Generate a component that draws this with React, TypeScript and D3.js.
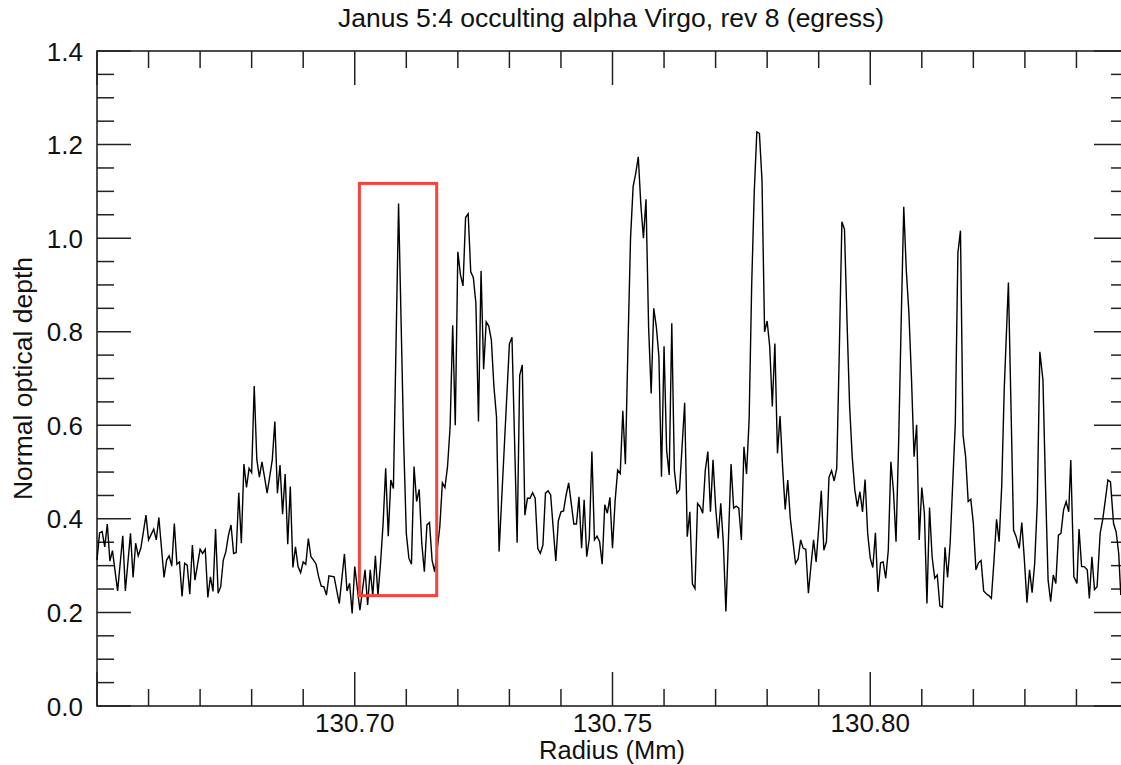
import React from "react";
import * as d3 from "d3";

// Radius (Mm) and normal optical depth
const RADIUS = [
  130.6500, 130.6505, 130.6510, 130.6515, 130.6520, 130.6525, 130.6530, 130.6540, 130.6550, 130.6555,
  130.6565, 130.6570, 130.6575, 130.6580, 130.6585, 130.6595, 130.6600, 130.6610, 130.6615, 130.6620,
  130.6630, 130.6635, 130.6640, 130.6645, 130.6650, 130.6655, 130.6660, 130.6665, 130.6670, 130.6675,
  130.6680, 130.6685, 130.6690, 130.6700, 130.6705, 130.6710, 130.6715, 130.6720, 130.6725, 130.6730,
  130.6735, 130.6740, 130.6745, 130.6750, 130.6755, 130.6760, 130.6765, 130.6770, 130.6775, 130.6780,
  130.6785, 130.6790, 130.6795, 130.6800, 130.6805, 130.6810, 130.6815, 130.6820, 130.6825, 130.6830,
  130.6835, 130.6840, 130.6845, 130.6850, 130.6855, 130.6860, 130.6865, 130.6870, 130.6875, 130.6880,
  130.6885, 130.6890, 130.6895, 130.6900, 130.6905, 130.6910, 130.6915, 130.6920, 130.6925, 130.6930,
  130.6935, 130.6940, 130.6945, 130.6950, 130.6960, 130.6970, 130.6980, 130.6985, 130.6990, 130.6995,
  130.7000, 130.7010, 130.7020, 130.7025, 130.7030, 130.7035, 130.7040, 130.7045, 130.7050, 130.7055,
  130.7060, 130.7065, 130.7070, 130.7075, 130.7085, 130.7095, 130.7100, 130.7105, 130.7110, 130.7115,
  130.7120, 130.7125, 130.7130, 130.7135, 130.7140, 130.7145, 130.7150, 130.7155, 130.7165, 130.7170,
  130.7175, 130.7180, 130.7185, 130.7190, 130.7195, 130.7200, 130.7205, 130.7210, 130.7215, 130.7220,
  130.7225, 130.7230, 130.7235, 130.7240, 130.7245, 130.7250, 130.7255, 130.7260, 130.7265, 130.7270,
  130.7275, 130.7280, 130.7300, 130.7305, 130.7315, 130.7320, 130.7325, 130.7330, 130.7335, 130.7340,
  130.7345, 130.7350, 130.7355, 130.7360, 130.7365, 130.7370, 130.7375, 130.7380, 130.7385, 130.7390,
  130.7395, 130.7400, 130.7405, 130.7410, 130.7415, 130.7420, 130.7425, 130.7430, 130.7435, 130.7440,
  130.7445, 130.7450, 130.7455, 130.7460, 130.7465, 130.7470, 130.7475, 130.7480, 130.7485, 130.7490,
  130.7495, 130.7500, 130.7505, 130.7510, 130.7515, 130.7520, 130.7525, 130.7530, 130.7535, 130.7540,
  130.7545, 130.7550, 130.7555, 130.7560, 130.7565, 130.7570, 130.7575, 130.7580, 130.7585, 130.7590,
  130.7595, 130.7600, 130.7605, 130.7610, 130.7615, 130.7620, 130.7625, 130.7630, 130.7640, 130.7645,
  130.7650, 130.7655, 130.7660, 130.7665, 130.7670, 130.7675, 130.7680, 130.7685, 130.7690, 130.7695,
  130.7700, 130.7705, 130.7710, 130.7715, 130.7720, 130.7730, 130.7735, 130.7740, 130.7745, 130.7750,
  130.7755, 130.7760, 130.7765, 130.7770, 130.7775, 130.7780, 130.7785, 130.7790, 130.7795, 130.7800,
  130.7805, 130.7810, 130.7815, 130.7820, 130.7825, 130.7830, 130.7835, 130.7840, 130.7845, 130.7855,
  130.7860, 130.7865, 130.7870, 130.7875, 130.7880, 130.7885, 130.7890, 130.7895, 130.7900, 130.7905,
  130.7910, 130.7915, 130.7920, 130.7925, 130.7930, 130.7935, 130.7940, 130.7945, 130.7950, 130.7955,
  130.7960, 130.7965, 130.7970, 130.7975, 130.7980, 130.7985, 130.7990, 130.7995, 130.8000, 130.8005,
  130.8010, 130.8015, 130.8020, 130.8025, 130.8030, 130.8035, 130.8040, 130.8045, 130.8050, 130.8055,
  130.8060, 130.8065, 130.8070, 130.8075, 130.8080, 130.8085, 130.8090, 130.8095, 130.8100, 130.8105,
  130.8110, 130.8115, 130.8120, 130.8125, 130.8130, 130.8135, 130.8140, 130.8145, 130.8150, 130.8155,
  130.8160, 130.8165, 130.8170, 130.8175, 130.8180, 130.8185, 130.8190, 130.8195, 130.8200, 130.8205,
  130.8210, 130.8215, 130.8220, 130.8225, 130.8230, 130.8235, 130.8240, 130.8245, 130.8250, 130.8255,
  130.8260, 130.8268, 130.8278, 130.8283, 130.8289, 130.8294, 130.8299, 130.8304, 130.8309, 130.8314,
  130.8319, 130.8324, 130.8329, 130.8335, 130.8340, 130.8345, 130.8350, 130.8355, 130.8360, 130.8365,
  130.8370, 130.8375, 130.8380, 130.8385, 130.8389, 130.8395, 130.8401, 130.8405, 130.8410, 130.8415,
  130.8421, 130.8425, 130.8430, 130.8435, 130.8440, 130.8446, 130.8451, 130.8456, 130.8461, 130.8466,
  130.8472, 130.8477, 130.8482, 130.8486,
];

const DEPTH = [
  0.312, 0.370, 0.373, 0.340, 0.389, 0.310, 0.332, 0.246, 0.364, 0.246,
  0.369, 0.275, 0.348, 0.321, 0.337, 0.408, 0.355, 0.378, 0.355, 0.403,
  0.275, 0.312, 0.321, 0.299, 0.390, 0.303, 0.308, 0.234, 0.305, 0.301,
  0.239, 0.344, 0.269, 0.335, 0.326, 0.335, 0.232, 0.276, 0.245, 0.378,
  0.241, 0.255, 0.312, 0.330, 0.365, 0.387, 0.326, 0.328, 0.456, 0.348,
  0.517, 0.467, 0.508, 0.499, 0.684, 0.527, 0.489, 0.522, 0.489, 0.455,
  0.490, 0.526, 0.608, 0.455, 0.515, 0.410, 0.496, 0.346, 0.469, 0.296,
  0.340, 0.298, 0.285, 0.308, 0.303, 0.358, 0.319, 0.312, 0.303, 0.276,
  0.256, 0.255, 0.237, 0.278, 0.276, 0.219, 0.325, 0.246, 0.262, 0.198,
  0.298, 0.205, 0.291, 0.216, 0.291, 0.235, 0.321, 0.237, 0.305, 0.390,
  0.508, 0.363, 0.483, 0.465, 1.074, 0.561, 0.369, 0.316, 0.303, 0.512,
  0.437, 0.463, 0.348, 0.287, 0.387, 0.392, 0.312, 0.287, 0.383, 0.477,
  0.467, 0.512, 0.597, 0.814, 0.600, 0.971, 0.922, 0.898, 1.044, 1.052,
  0.928, 0.916, 0.861, 0.608, 0.930, 0.720, 0.821, 0.812, 0.782, 0.682,
  0.618, 0.330, 0.774, 0.788, 0.349, 0.707, 0.729, 0.408, 0.444, 0.444,
  0.456, 0.444, 0.337, 0.326, 0.344, 0.455, 0.460, 0.451, 0.380, 0.310,
  0.396, 0.415, 0.417, 0.451, 0.477, 0.433, 0.389, 0.389, 0.447, 0.337,
  0.441, 0.319, 0.358, 0.544, 0.355, 0.363, 0.351, 0.303, 0.430, 0.412,
  0.446, 0.337, 0.437, 0.504, 0.497, 0.631, 0.517, 0.770, 1.000, 1.110,
  1.138, 1.174, 1.071, 1.000, 1.083, 0.811, 0.668, 0.850, 0.811, 0.747,
  0.490, 0.769, 0.547, 0.494, 0.818, 0.504, 0.455, 0.462, 0.648, 0.362,
  0.415, 0.261, 0.251, 0.433, 0.426, 0.412, 0.504, 0.544, 0.415, 0.526,
  0.426, 0.358, 0.433, 0.348, 0.202, 0.517, 0.423, 0.427, 0.423, 0.355,
  0.554, 0.496, 0.611, 0.900, 1.100, 1.227, 1.224, 1.124, 0.800, 0.823,
  0.768, 0.640, 0.775, 0.540, 0.620, 0.510, 0.420, 0.483, 0.400, 0.305,
  0.314, 0.355, 0.337, 0.335, 0.241, 0.300, 0.355, 0.308, 0.380, 0.460,
  0.333, 0.351, 0.489, 0.503, 0.481, 0.508, 0.760, 1.035, 1.019, 0.820,
  0.640, 0.533, 0.462, 0.426, 0.458, 0.415, 0.484, 0.369, 0.316, 0.296,
  0.370, 0.244, 0.306, 0.308, 0.273, 0.333, 0.522, 0.460, 0.351, 0.560,
  0.820, 1.067, 0.930, 0.840, 0.700, 0.533, 0.601, 0.355, 0.467, 0.412,
  0.219, 0.424, 0.319, 0.273, 0.280, 0.214, 0.211, 0.339, 0.275, 0.348,
  0.476, 0.604, 0.968, 1.016, 0.579, 0.533, 0.437, 0.442, 0.390, 0.291,
  0.306, 0.311, 0.246, 0.240, 0.236, 0.230, 0.310, 0.399, 0.351, 0.470,
  0.680, 0.905, 0.376, 0.362, 0.337, 0.392, 0.312, 0.221, 0.291, 0.242,
  0.305, 0.433, 0.757, 0.697, 0.469, 0.269, 0.223, 0.280, 0.262, 0.365,
  0.369, 0.419, 0.437, 0.415, 0.526, 0.276, 0.262, 0.378, 0.298, 0.298,
  0.291, 0.230, 0.319, 0.249, 0.255, 0.369, 0.399, 0.440, 0.483, 0.479,
  0.390, 0.372, 0.326, 0.237,
];

const X_DOMAIN = [130.65, 130.85];
const Y_DOMAIN = [0, 1.4];
const X_LABEL_TICKS = [130.7, 130.75, 130.8];
const X_LABELS = ["130.70", "130.75", "130.80"];
const Y_LABEL_TICKS = [0, 0.2, 0.4, 0.6, 0.8, 1.0, 1.2, 1.4];
const Y_LABELS = ["0.0", "0.2", "0.4", "0.6", "0.8", "1.0", "1.2", "1.4"];
const BOX_RADIUS = [130.7009, 130.7159];
const BOX_DEPTH = [0.236, 1.117];

const TITLE = "Janus 5:4 occulting alpha Virgo, rev 8 (egress)";
const X_TITLE = "Radius (Mm)";
const Y_TITLE = "Normal optical depth";

const W = 1121;
const H = 765;
const L = 97;
const R = 1128;
const T = 51;
const B = 706;
const FONT = "'Liberation Sans', Arial, Helvetica, sans-serif";
const AX = "#222";

export default function App() {
  const x = d3.scaleLinear().domain(X_DOMAIN).range([L, R]);
  const y = d3.scaleLinear().domain(Y_DOMAIN).range([B, T]);
  const pts: [number, number][] = RADIUS.map((r, i) => [r, DEPTH[i]]);
  const line = d3
    .line<[number, number]>()
    .x((d) => x(d[0]))
    .y((d) => y(d[1]));

  const xMinor = x.ticks(20);
  const yMinor = y.ticks(28);
  const isMajorX = (v: number) => Math.abs(Math.round(v / 0.05) * 0.05 - v) < 1e-6;
  const isMajorY = (v: number) => Math.abs(Math.round(v / 0.2) * 0.2 - v) < 1e-6;
  const MAJ = 34;
  const MIN = 17;

  return (
    <svg
      width={W}
      height={H}
      style={{ position: "absolute", left: 0, top: 0, background: "#fff" }}
      fontFamily={FONT}
    >
      <rect x={0} y={0} width={W} height={H} fill="#fff" />
      {/* frame */}
      <rect x={L} y={T} width={R - L} height={B - T} fill="none" stroke={AX} strokeWidth={1.6} />
      {/* x ticks */}
      {xMinor.map((v, i) => {
        const len = isMajorX(v) ? MAJ : MIN;
        const px = x(v);
        return (
          <g key={"xt" + i}>
            <line x1={px} x2={px} y1={B} y2={B - len} stroke={AX} strokeWidth={1.5} />
            <line x1={px} x2={px} y1={T} y2={T + len} stroke={AX} strokeWidth={1.5} />
          </g>
        );
      })}
      {/* y ticks */}
      {yMinor.map((v, i) => {
        const len = isMajorY(v) ? MAJ : MIN;
        const py = y(v);
        return (
          <g key={"yt" + i}>
            <line x1={L} x2={L + len} y1={py} y2={py} stroke={AX} strokeWidth={1.5} />
            <line x1={R} x2={R - len} y1={py} y2={py} stroke={AX} strokeWidth={1.5} />
          </g>
        );
      })}
      {/* tick labels */}
      {X_LABEL_TICKS.map((v, i) => (
        <text key={"xl" + i} x={x(v)} y={732} textAnchor="middle" fontSize={26} fill="#111">
          {X_LABELS[i]}
        </text>
      ))}
      {Y_LABEL_TICKS.map((v, i) => (
        <text key={"yl" + i} x={83} y={y(v) + 9.5} textAnchor="end" fontSize={26} fill="#111">
          {Y_LABELS[i]}
        </text>
      ))}
      {/* titles */}
      <text x={611} y={27} textAnchor="middle" fontSize={26.5} fill="#111">
        {TITLE}
      </text>
      <text x={612} y={759} textAnchor="middle" fontSize={25.5} fill="#111">
        {X_TITLE}
      </text>
      <text
        transform={`translate(32, ${(T + B) / 2}) rotate(-90)`}
        textAnchor="middle"
        fontSize={26.5}
        fill="#111"
      >
        {Y_TITLE}
      </text>
      {/* data */}
      <path d={line(pts) || ""} fill="none" stroke="#000" strokeWidth={1.4} strokeLinejoin="miter" />
      {/* highlight box */}
      <rect
        x={x(BOX_RADIUS[0])}
        y={y(BOX_DEPTH[1])}
        width={x(BOX_RADIUS[1]) - x(BOX_RADIUS[0])}
        height={y(BOX_DEPTH[0]) - y(BOX_DEPTH[1])}
        fill="none"
        stroke="#f2453d"
        strokeWidth={3}
      />
    </svg>
  );
}
